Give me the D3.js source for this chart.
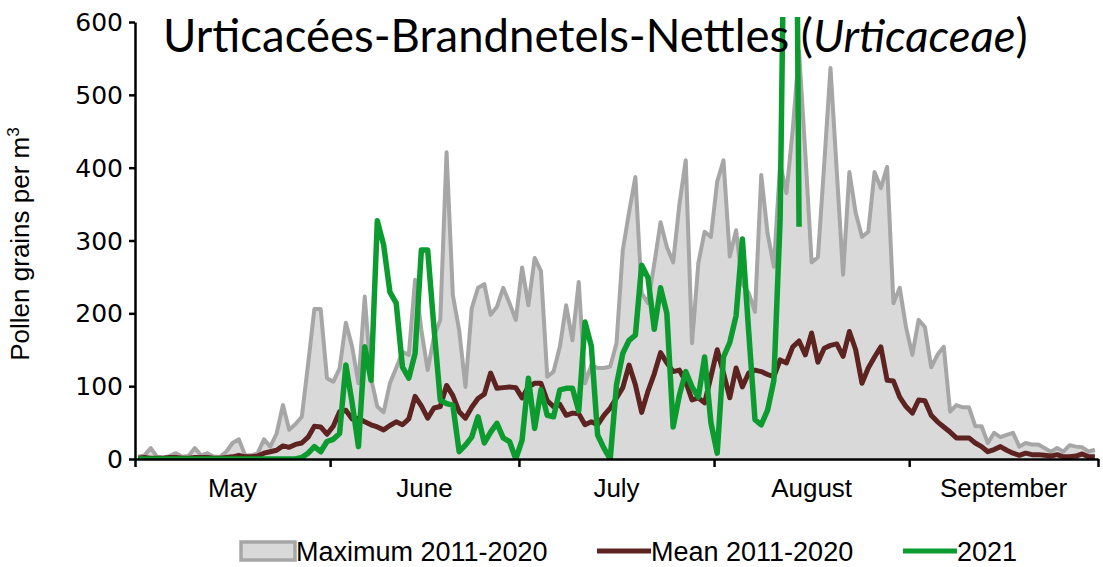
<!DOCTYPE html>
<html>
<head>
<meta charset="utf-8">
<script src="https://cdn.jsdelivr.net/npm/d3@7"></script>
<style>
  html, body { margin: 0; padding: 0; background: #fff; overflow: hidden; }
  svg { display: block; }
  text { font-family: "Liberation Sans", Arial, sans-serif; fill: #000; }
</style>
</head>
<body>
<svg width="1103" height="567"></svg>
<script>
// categories: one point per day, 1 May to 30 September
const months = ['May', 'June', 'July', 'August', 'September'];
const yTicks = [0, 100, 200, 300, 400, 500, 600];

// maximum 2011-2020 (grey area)
const maxValues = [
  3, 5, 15, 3, 2, 4, 8, 3, 4, 15, 5, 8, 3, 3, 10, 22, 27, 5, 5, 8,
  27, 17, 35, 74, 40, 48, 58, 130, 206, 206, 111, 106, 124, 187, 154, 104, 223, 111, 72, 64,
  104, 125, 147, 143, 246, 177, 122, 168, 191, 421, 225, 177, 99, 207, 235, 240, 198, 209, 235, 214,
  191, 263, 211, 276, 258, 113, 120, 154, 211, 163, 243, 104, 129, 125, 125, 127, 159, 287, 339, 387,
  228, 214, 268, 325, 291, 270, 350, 410, 159, 269, 312, 305, 381, 410, 278, 314, 240, 228, 202, 390,
  310, 264, 406, 365, 452, 560, 420, 270, 277, 405, 537, 395, 253, 394, 338, 305, 312, 394, 372, 401,
  214, 235, 181, 143, 191, 181, 126, 143, 154, 65, 74, 71, 71, 45, 45, 22, 36, 30, 33, 36,
  17, 22, 20, 20, 15, 10, 15, 10, 19, 17, 16, 10, 13
];

// mean 2011-2020
const meanValues = [
  1, 2, 1, 1, 1, 2, 2, 1, 1, 2, 2, 2, 1, 1, 2, 3, 5, 3, 3, 4,
  8, 10, 12, 18, 16, 20, 22, 30, 45, 44, 34, 45, 65, 67, 55, 56, 51, 47, 44, 40,
  46, 51, 47, 55, 86, 73, 56, 70, 72, 101, 87, 65, 56, 71, 83, 89, 118, 97, 98, 99,
  98, 84, 99, 104, 104, 80, 72, 75, 60, 63, 62, 47, 51, 47, 60, 70, 84, 98, 129, 102,
  64, 93, 117, 146, 132, 120, 122, 106, 81, 84, 77, 113, 150, 118, 84, 125, 99, 118, 122, 120,
  116, 113, 136, 132, 154, 162, 143, 173, 133, 152, 156, 158, 141, 175, 150, 104, 125, 140, 154, 108,
  107, 85, 72, 63, 81, 80, 60, 51, 44, 37, 29, 29, 29, 22, 17, 10, 13, 17, 12, 8,
  5, 8, 6, 6, 5, 4, 6, 3, 3, 4, 7, 3, 3
];

// 2021 (data until mid August)
const values2021 = [
  0, 0, 0, 0, 0, 0, 0, 0, 0, 0, 0, 0, 0, 0, 0, 0, 0, 0, 0, 0,
  0, 0, 0, 0, 0, 0, 2, 8, 17, 10, 24, 27, 35, 129, 77, 17, 154, 108, 327, 294,
  229, 214, 126, 111, 145, 287, 287, 180, 81, 76, 74, 10, 19, 30, 58, 22, 37, 49, 29, 24,
  0, 26, 111, 42, 95, 60, 58, 95, 97, 97, 66, 188, 155, 33, 15, 0, 102, 145, 163, 170,
  266, 249, 178, 235, 200, 44, 88, 120, 99, 85, 140, 50, 8, 140, 160, 197, 302, 175, 54, 47,
  67, 108, 330, 1000, 1500, 319
];

const svg = d3.select('svg');
const margin = { top: 22, left: 135, right: 5, bottom: 108 };
const width = +svg.attr('width');
const height = +svg.attr('height');
const innerWidth = width - margin.left - margin.right;
const innerHeight = height - margin.top - margin.bottom;

const start = new Date(2021, 4, 1);
const end = new Date(2021, 9, 1);
const dayDate = i => d3.timeHour.offset(d3.timeDay.offset(start, i), 12);

const xScale = d3.scaleTime().domain([start, end]).range([margin.left, margin.left + innerWidth]);
const yScale = d3.scaleLinear().domain([0, 600]).range([margin.top + innerHeight, margin.top]);

svg.append('clipPath').attr('id', 'plot-clip')
  .append('rect')
  .attr('x', margin.left).attr('y', margin.top - 5)
  .attr('width', innerWidth + 4).attr('height', innerHeight + 5);

const plot = svg.append('g').attr('clip-path', 'url(#plot-clip)');

const area = d3.area()
  .x((d, i) => xScale(dayDate(i)))
  .y0(yScale(0))
  .y1(d => yScale(d));
const line = d3.line()
  .x((d, i) => xScale(dayDate(i)))
  .y(d => yScale(d));

plot.append('path')
  .attr('d', area(maxValues))
  .attr('fill', '#d9d9d9');
plot.append('path')
  .attr('d', line(maxValues))
  .attr('fill', 'none')
  .attr('stroke', '#a6a6a6')
  .attr('stroke-width', 4)
  .attr('stroke-linejoin', 'round');
plot.append('path')
  .attr('d', line(meanValues))
  .attr('fill', 'none')
  .attr('stroke', '#5c2321')
  .attr('stroke-width', 5)
  .attr('stroke-linejoin', 'round');
plot.append('path')
  .attr('d', line(values2021))
  .attr('fill', 'none')
  .attr('stroke', '#0b9b2f')
  .attr('stroke-width', 5.5)
  .attr('stroke-linejoin', 'round');

// axes
const monthStarts = d3.timeMonth.range(start, d3.timeDay.offset(end, 1));
const xAxis = d3.axisBottom(xScale)
  .tickValues(monthStarts)
  .tickFormat('')
  .tickSize(8)
  .tickSizeOuter(0);
const gx = svg.append('g')
  .attr('transform', `translate(0, ${yScale(0)})`)
  .call(xAxis);

const yAxis = d3.axisLeft(yScale)
  .tickValues(yTicks)
  .tickFormat('')
  .tickSize(6)
  .tickSizeOuter(0);
const gy = svg.append('g')
  .attr('transform', `translate(${margin.left}, 0)`)
  .call(yAxis);

[gx, gy].forEach(g => {
  g.select('.domain').attr('stroke', '#000').attr('stroke-width', 2.5);
  g.selectAll('.tick line').attr('stroke', '#000').attr('stroke-width', 2.5);
});

yTicks.forEach(v => {
  svg.append('text')
    .attr('x', margin.left - 12)
    .attr('y', yScale(v))
    .attr('dy', '0.36em')
    .attr('text-anchor', 'end')
    .style('font-family', '"DejaVu Sans", sans-serif')
    .style('font-size', '25px')
    .text(v);
});

months.forEach((m, i) => {
  const a = monthStarts[i], b = monthStarts[i + 1];
  svg.append('text')
    .attr('x', (xScale(a) + xScale(b)) / 2)
    .attr('y', yScale(0) + 38)
    .attr('text-anchor', 'middle')
    .style('font-size', '26px')
    .text(m);
});

// y axis title
const yTitle = svg.append('text')
  .attr('transform', 'translate(29, 244) rotate(-90)')
  .attr('text-anchor', 'middle')
  .style('font-size', '26px');
yTitle.append('tspan').text('Pollen grains per m');
yTitle.append('tspan').attr('dy', -10).style('font-size', '17px').text('3');

// chart title, sized so it spans the same width as the reference
const title = svg.append('text')
  .attr('x', 163)
  .attr('y', 52)
  .style('font-family', 'Lato, "Open Sans", sans-serif')
  .style('font-size', '42px');
title.append('tspan').text('Urticacées-Brandnetels-Nettles (');
title.append('tspan').style('font-style', 'italic').text('Urticaceae');
title.append('tspan').text(')');
const titleW = title.node().getComputedTextLength();
title.style('font-size', `${42 * 865 / titleW}px`);

// legend
const legendY = 551;
const legend = svg.append('g');
legend.append('rect')
  .attr('x', 241).attr('y', legendY - 9)
  .attr('width', 54).attr('height', 18)
  .attr('fill', '#d9d9d9')
  .attr('stroke', '#a6a6a6')
  .attr('stroke-width', 3.5);
legend.append('text')
  .attr('x', 296).attr('y', legendY + 10)
  .style('font-size', '27px')
  .text('Maximum 2011-2020');
legend.append('line')
  .attr('x1', 597).attr('x2', 651)
  .attr('y1', legendY).attr('y2', legendY)
  .attr('stroke', '#5c2321').attr('stroke-width', 5);
legend.append('text')
  .attr('x', 651).attr('y', legendY + 10)
  .style('font-size', '27px')
  .text('Mean 2011-2020');
legend.append('line')
  .attr('x1', 903).attr('x2', 957)
  .attr('y1', legendY).attr('y2', legendY)
  .attr('stroke', '#0b9b2f').attr('stroke-width', 5);
legend.append('text')
  .attr('x', 957).attr('y', legendY + 10)
  .style('font-size', '27px')
  .text('2021');
</script>
</body>
</html>
